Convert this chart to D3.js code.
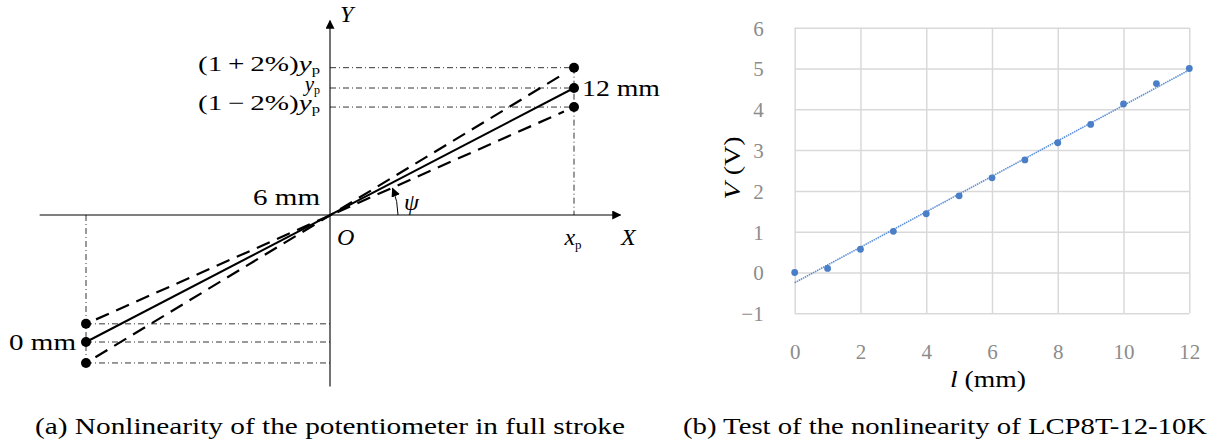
<!DOCTYPE html>
<html>
<head>
<meta charset="utf-8">
<script src="https://cdn.jsdelivr.net/npm/d3@7"></script>
<style>
  body { margin: 0; background: #fff; }
  text { font-family: "Liberation Serif", "DejaVu Serif", serif; }
</style>
</head>
<body>
<div class="fig"></div>
<script>
// Right chart data: stroke l (mm) and measured voltage V (V)
var strokeMm = [0, 1, 2, 3, 4, 5, 6, 7, 8, 9, 10, 11, 12];
var voltage = [0, 0.1, 0.57, 1.01, 1.44, 1.88, 2.32, 2.76, 3.18, 3.63, 4.13, 4.63, 5.0];
var xTicks = [0, 2, 4, 6, 8, 10, 12];
var yTicks = [-1, 0, 1, 2, 3, 4, 5, 6];

// Left diagram (schematic, normalised units: xp = 1, yp = 1)
var endX = [-1, 1];
var lowerBand = [-0.857, 0.85];   // (1-2%) line ends
var idealLine = [-1.0, 1.0];      // ideal line ends
var upperBand = [-1.165, 1.16];   // (1+2%) line ends
var leftLabels = ["(1\u2009+\u20092%)", "", "(1\u2009\u2212\u20092%)"];

var svgWidth = 1227;
var svgHeight = 444;

var svg = d3.select(".fig")
    .append("svg")
    .attr("width", svgWidth)
    .attr("height", svgHeight);

// ---------- (a) left diagram ----------
var xs = d3.scaleLinear().domain([-1, 1]).range([86, 574]);
var ys = d3.scaleLinear().domain([-1, 1]).range([342, 88]);
var ox = xs(0), oy = ys(0);

var left = svg.append("g");

left.append("defs").append("marker")
    .attr("id", "arr")
    .attr("viewBox", "0 0 10 10")
    .attr("refX", 9).attr("refY", 5)
    .attr("markerWidth", 9).attr("markerHeight", 9)
    .attr("markerUnits", "userSpaceOnUse")
    .attr("orient", "auto")
    .append("path").attr("d", "M0,0 L10,5 L0,10 Z").attr("fill", "#000");

// axes
left.append("line")
    .attr("x1", xs(-1.19)).attr("x2", xs(1.19))
    .attr("y1", oy).attr("y2", oy)
    .attr("stroke", "#000").attr("stroke-width", 1.1)
    .attr("marker-end", "url(#arr)");
left.append("line")
    .attr("x1", ox).attr("x2", ox)
    .attr("y1", ys(-1.35)).attr("y2", ys(1.53))
    .attr("stroke", "#000").attr("stroke-width", 1.1)
    .attr("marker-end", "url(#arr)");

// dash-dot guide lines
var guide = left.append("g")
    .attr("stroke", "#000").attr("stroke-width", 0.8)
    .attr("stroke-dasharray", "6,3,1,3").attr("fill", "none");
[upperBand, idealLine, lowerBand].forEach(function(b) {
    guide.append("line").attr("x1", ox).attr("x2", xs(endX[1]))
        .attr("y1", ys(b[1])).attr("y2", ys(b[1]));
    guide.append("line").attr("x1", xs(endX[0])).attr("x2", ox)
        .attr("y1", ys(b[0])).attr("y2", ys(b[0]));
});
guide.append("line").attr("x1", xs(endX[1])).attr("x2", xs(endX[1]))
    .attr("y1", ys(upperBand[1])).attr("y2", oy);
guide.append("line").attr("x1", xs(endX[0])).attr("x2", xs(endX[0]))
    .attr("y1", oy).attr("y2", ys(upperBand[0]));

// lines: ideal solid, tolerance dashed (steep: lower-left to upper-right)
function shrink(x1, y1, x2, y2, g) {
    var dx = x2 - x1, dy = y2 - y1, L = Math.hypot(dx, dy);
    return [x1 + dx * g / L, y1 + dy * g / L, x2 - dx * g / L, y2 - dy * g / L];
}
left.append("line")
    .attr("x1", xs(endX[0])).attr("y1", ys(idealLine[0]))
    .attr("x2", xs(endX[1])).attr("y2", ys(idealLine[1]))
    .attr("stroke", "#000").attr("stroke-width", 2);
var steep = shrink(xs(endX[0]), ys(upperBand[0]), xs(endX[1]), ys(upperBand[1]), 11);
var flat = shrink(xs(endX[0]), ys(lowerBand[0]), xs(endX[1]), ys(lowerBand[1]), 11);
[steep, flat].forEach(function(c) {
    left.append("line")
        .attr("x1", c[0]).attr("y1", c[1]).attr("x2", c[2]).attr("y2", c[3])
        .attr("stroke", "#000").attr("stroke-width", 2.2)
        .attr("stroke-dasharray", "14,8");
});

// end dots
[upperBand, idealLine, lowerBand].forEach(function(b) {
    left.append("circle").attr("cx", xs(endX[0])).attr("cy", ys(b[0])).attr("r", 5).attr("fill", "#000");
    left.append("circle").attr("cx", xs(endX[1])).attr("cy", ys(b[1])).attr("r", 5).attr("fill", "#000");
});

// psi arc
var r = 68, a1 = 23 * Math.PI / 180;
left.append("path")
    .attr("d", "M" + (ox + r) + "," + oy + " A" + r + "," + r + " 0 0 0 " +
        (ox + r * Math.cos(a1)) + "," + (oy - r * Math.sin(a1)))
    .attr("fill", "none").attr("stroke", "#000").attr("stroke-width", 1)
    .attr("marker-end", "url(#arr)");

var fs = 24;
function label(x, y, txt, anchor, italic, len) {
    var t = left.append("text").attr("x", x).attr("y", y)
        .attr("text-anchor", anchor || "start")
        .attr("font-size", fs)
        .attr("font-style", italic ? "italic" : "normal")
        .text(txt);
    if (len) t.attr("textLength", len).attr("lengthAdjust", "spacingAndGlyphs");
    return t;
}
label(ox + 10, 22, "Y", "start", true);
label(621, 245, "X", "start", true);
label(ox + 7, 245, "O", "start", true);
label(404, 210, "\u03c8", "start", true);
label(320, 205, "6 mm", "end", false, 67);
label(76, 350, "0 mm", "end", false, 67);
label(582, 96, "12 mm", "start", false, 78);

// y_p labels
[upperBand, idealLine, lowerBand].forEach(function(b, i) {
    var t = left.append("text").attr("x", 320).attr("y", ys(b[1]) + 3)
        .attr("text-anchor", "end").attr("font-size", 21);
    t.append("tspan").text(leftLabels[i]);
    t.append("tspan").attr("font-style", "italic").text("y");
    t.append("tspan").attr("font-size", 12).attr("dy", 3).text("p");
    if (leftLabels[i]) t.attr("textLength", 122).attr("lengthAdjust", "spacingAndGlyphs");
});
var xp = left.append("text").attr("x", xs(1) - 1).attr("y", 245)
    .attr("text-anchor", "middle").attr("font-size", fs);
xp.append("tspan").attr("font-style", "italic").text("x");
xp.append("tspan").attr("font-size", 13).attr("dy", 4).text("p");

// ---------- (b) right chart ----------
var margin = { top: 27.7, left: 794.7 };
var width = 1189.3 - 794.7;
var height = 313.3 - 27.7;

var chart = svg.append("g")
    .attr("transform", `translate(${margin.left}, ${margin.top})`);

var xScale = d3.scaleLinear().domain([0, 12]).range([0, width]);
var yScale = d3.scaleLinear().domain([-1, 6]).range([height, 0]);

// gridlines
chart.append("g")
    .call(d3.axisLeft(yScale).tickValues(yTicks).tickSize(-width).tickFormat(""))
    .call(g => g.select(".domain").remove())
    .selectAll("line").attr("stroke", "#d9d9d9").attr("stroke-width", 1.5);
chart.append("g")
    .attr("transform", `translate(0, ${height})`)
    .call(d3.axisBottom(xScale).tickValues(xTicks).tickSize(height).tickFormat(""))
    .call(g => g.select(".domain").remove())
    .selectAll("line").attr("stroke", "#d9d9d9").attr("stroke-width", 1.5)
    .attr("y2", -height);

// tick labels
chart.append("g")
    .attr("transform", "translate(-28, 0)")
    .call(d3.axisLeft(yScale).tickValues(yTicks).tickSize(0).tickFormat(d3.format("d")))
    .call(g => g.select(".domain").remove())
    .selectAll("text")
    .attr("fill", "#8c8c8c").attr("font-size", 21)
    .attr("font-family", "Liberation Serif, serif").attr("dy", "0.35em");
chart.append("g")
    .attr("transform", `translate(0, ${height + 28})`)
    .call(d3.axisBottom(xScale).tickValues(xTicks).tickSize(0))
    .call(g => g.select(".domain").remove())
    .selectAll("text")
    .attr("fill", "#8c8c8c").attr("font-size", 21)
    .attr("font-family", "Liberation Serif, serif").attr("dy", "0.71em");

// trendline from least squares
var mx = d3.mean(strokeMm), my = d3.mean(voltage);
var slope = d3.sum(strokeMm, (x, i) => (x - mx) * (voltage[i] - my)) /
    d3.sum(strokeMm, x => (x - mx) * (x - mx));
var icpt = my - slope * mx;
chart.append("line")
    .attr("x1", xScale(0)).attr("y1", yScale(icpt))
    .attr("x2", xScale(12)).attr("y2", yScale(icpt + slope * 12))
    .attr("stroke", "#5b8fd6").attr("stroke-width", 1.6)
    .attr("stroke-dasharray", "1.5,0.8");

chart.selectAll("circle")
    .data(strokeMm)
    .enter()
    .append("circle")
    .attr("cx", d => xScale(d))
    .attr("cy", (d, i) => yScale(voltage[i]))
    .attr("r", 3.4)
    .attr("fill", "#4a7ec6");

// axis titles
var xt = svg.append("text").attr("x", 988).attr("y", 387)
    .attr("text-anchor", "middle").attr("font-size", 24)
    .attr("textLength", 76).attr("lengthAdjust", "spacingAndGlyphs");
xt.append("tspan").attr("font-style", "italic").text("l");
xt.append("tspan").text(" (mm)");
var yt = svg.append("text")
    .attr("transform", "translate(740, 168) rotate(-90)")
    .attr("text-anchor", "middle").attr("font-size", 24)
    .attr("textLength", 63).attr("lengthAdjust", "spacingAndGlyphs");
yt.append("tspan").attr("font-style", "italic").text("V");
yt.append("tspan").text(" (V)");

// captions
svg.append("text").attr("x", 330).attr("y", 434).attr("text-anchor", "middle")
    .attr("font-size", 23).attr("textLength", 590).attr("lengthAdjust", "spacingAndGlyphs")
    .text("(a) Nonlinearity of the potentiometer in full stroke");
svg.append("text").attr("x", 945).attr("y", 434).attr("text-anchor", "middle")
    .attr("font-size", 23).attr("textLength", 524).attr("lengthAdjust", "spacingAndGlyphs")
    .text("(b) Test of the nonlinearity of LCP8T-12-10K");
</script>
</body>
</html>
